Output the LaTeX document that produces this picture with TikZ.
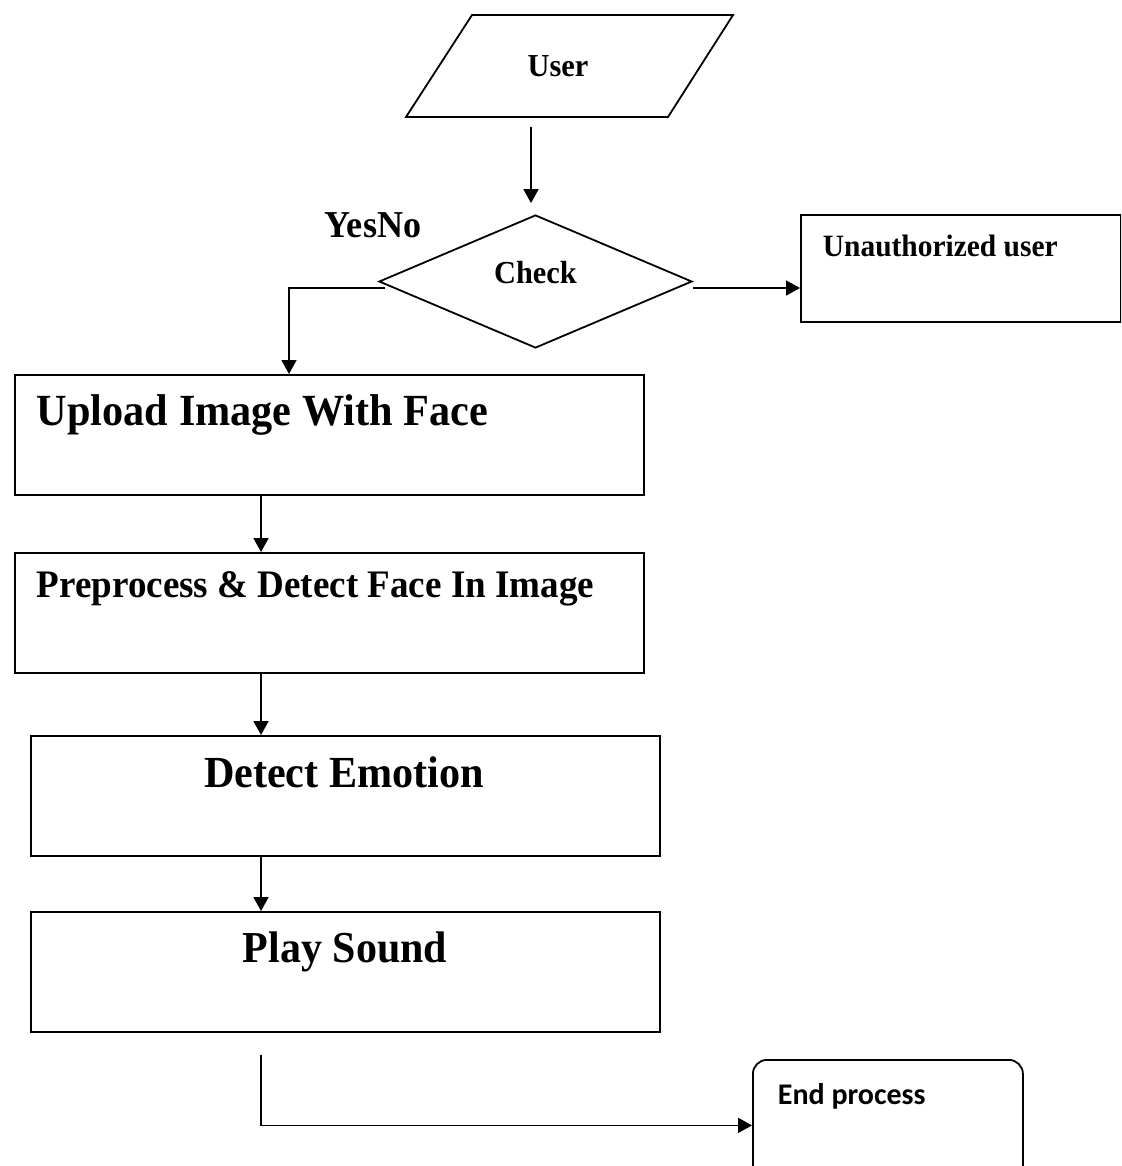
\documentclass[tikz,border=0pt]{standalone}
\usepackage{fontspec}
\setmainfont{Liberation Serif}[FakeStretch=0.95]
\newfontfamily\calibri{Carlito}
\usetikzlibrary{shapes.geometric,arrows.meta,calc}
\begin{document}
\begin{tikzpicture}[x=1pt,y=-1pt,line width=1.8pt,
  arr/.style={-{Triangle[length=14pt,width=15pt]}},
  boxnode/.style={draw,rectangle,inner sep=0pt,anchor=north west},
  txt/.style={inner sep=0pt,font=\bfseries}]
\useasboundingbox (0,0) rectangle (1121,1166);
\clip (0,0) rectangle (1121,1166);
% user parallelogram
\draw (472,15) -- (733,15) -- (668,117) -- (406,117) -- cycle;
\node[txt,anchor=base,font=\bfseries\fontsize{32}{32}\selectfont] (usr) at (558,77) {User};
\coordinate (a0) at (531,127);
% check diamond
\node[draw,diamond,minimum width=313pt,minimum height=133pt,inner sep=0pt] (chk) at (535.5,281.5) {};
\node[txt,anchor=base,font=\bfseries\fontsize{32}{32}\selectfont] (chkt) at (535.5,283) {Check};
\node[txt,anchor=base west,font=\bfseries\fontsize{38}{38}\selectfont] (yn) at (324,237) {YesNo};
% unauthorized
\node[boxnode,minimum width=320pt,minimum height=107pt] (ua) at (800,214) {};
\node[txt,anchor=base west,font=\bfseries\fontsize{31}{31}\selectfont] (uat) at (822,257) {Unauthorized user};
% process boxes
\node[boxnode,minimum width=629pt,minimum height=120pt] (up) at (14,374) {};
\node[txt,anchor=base west,font=\bfseries\fontsize{44.5}{44}\selectfont] (upt) at (36,425) {Upload Image With Face};
\node[boxnode,minimum width=629pt,minimum height=120pt] (pre) at (14,552) {};
\node[txt,anchor=base west,font=\bfseries\fontsize{39}{39}\selectfont] (pret) at (36,597) {Preprocess \& Detect Face In Image};
\node[boxnode,minimum width=629pt,minimum height=120pt] (det) at (30,735) {};
\node[txt,anchor=base,font=\bfseries\fontsize{44.4}{44}\selectfont] (dett) at (344,787) {Detect Emotion};
\node[boxnode,minimum width=629pt,minimum height=120pt] (ply) at (30,911) {};
\node[txt,anchor=base,font=\bfseries\fontsize{44.2}{44}\selectfont] (plyt) at (345,962) {Play Sound};
% end process
\node[boxnode,rounded corners=14pt,minimum width=270pt,minimum height=131pt] (end) at (752,1059) {};
\node[txt,anchor=base west,font=\calibri\bfseries\fontsize{30}{30}\selectfont] (endt) at (777,1104) {End process};
% connectors
\draw[arr] (a0) -- ([xshift=-4.5pt,yshift=11pt]chk.north);
\draw[arr] ([shift={(7pt,-6.5pt)}]chk.west) -| ([xshift=275pt]up.north west);
\draw[arr] ([yshift=-6.5pt]chk.east) -- ([yshift=-6.5pt]chk.east -| ua.west);
\draw[arr] ([xshift=247pt]up.south west) -- ([xshift=247pt]pre.north west);
\draw[arr] ([xshift=247pt]pre.south west) -- ([xshift=231pt]det.north west);
\draw[arr] ([xshift=231pt]det.south west) -- ([xshift=231pt]ply.north west);
\coordinate (p0) at (261,1055);
\draw[arr] (p0) |- (end.west);
\end{tikzpicture}
\end{document}
